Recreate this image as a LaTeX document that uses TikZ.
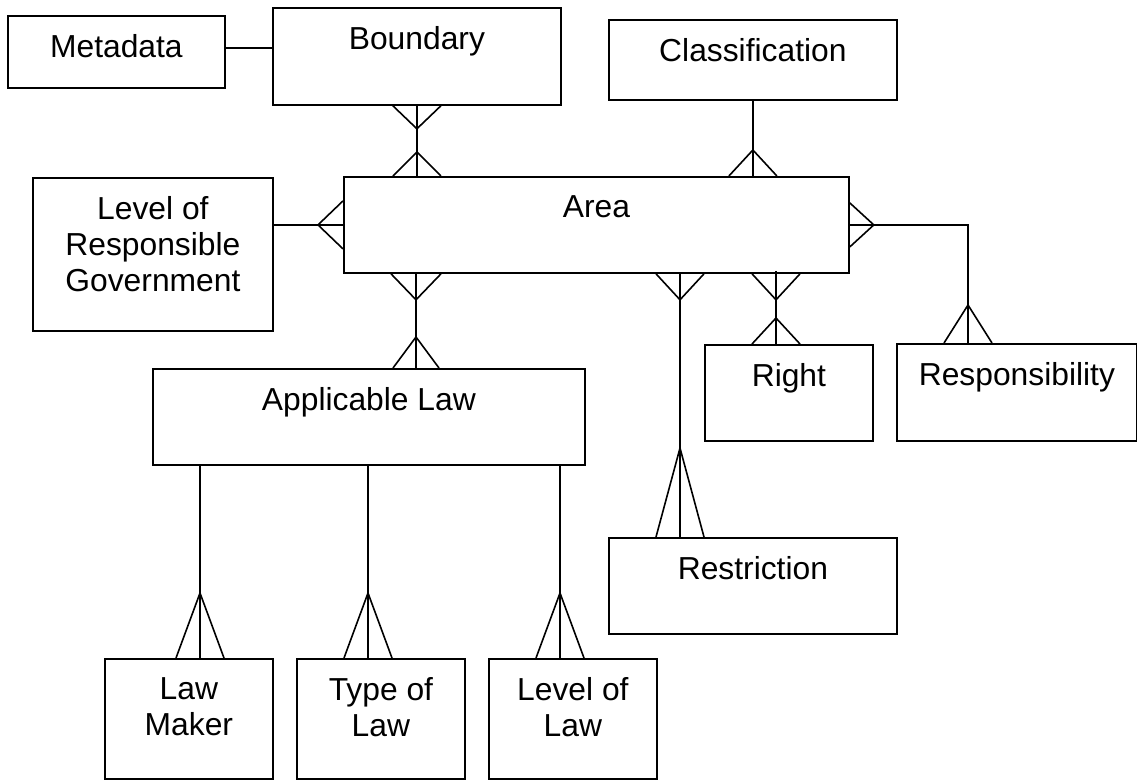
\documentclass[tikz,border=0pt]{standalone}
\usepackage{fontspec}
\setmainfont{Liberation Sans}
\usetikzlibrary{calc}
\newcommand\crowft[3]{\draw[crowst] ($#1+(#3)$) -- ($#1+(#2)$) -- ($#1-(#3)$);}
\begin{document}
\begin{tikzpicture}[x=1pt,y=-1pt,
  ent/.style={draw, line width=1.8pt, inner sep=0pt, anchor=north west},
  lbl/.style={font=\fontsize{31.8}{36}\selectfont, align=center, inner sep=0pt, anchor=north},
  con/.style={line width=1.7pt},
  crowst/.style={line width=1.6pt}]
\useasboundingbox (0,0) rectangle (1137,779);
\fill[white] (0,0) rectangle (1137,779);

% entity boxes
\node[ent, minimum width=217pt, minimum height=72pt] (meta) at (7,15) {};
\node[ent, minimum width=288pt, minimum height=97pt] (bound) at (272,7) {};
\node[ent, minimum width=288pt, minimum height=80pt] (class) at (608,19) {};
\node[ent, minimum width=240pt, minimum height=153pt] (lrg) at (32,177) {};
\node[ent, minimum width=505pt, minimum height=96pt] (area) at (343,176) {};
\node[ent, minimum width=432pt, minimum height=96pt] (applaw) at (152,368) {};
\node[ent, minimum width=168pt, minimum height=96pt] (right) at (704,344) {};
\node[ent, minimum width=240pt, minimum height=97pt] (resp) at (896,343) {};
\node[ent, minimum width=288pt, minimum height=96pt] (restr) at (608,537) {};
\node[ent, minimum width=168pt, minimum height=120pt] (maker) at (104,658) {};
\node[ent, minimum width=168pt, minimum height=120pt] (typelaw) at (296,658) {};
\node[ent, minimum width=168pt, minimum height=120pt] (levellaw) at (488,658) {};

% labels
\node[lbl] (metaL) at ([yshift=-19pt]meta.north) {Metadata};
\node[lbl] (boundL) at ([yshift=-19pt]bound.north) {Boundary};
\node[lbl] (classL) at ([yshift=-19pt]class.north) {Classification};
\node[lbl] (lrgL) at ([yshift=-19pt]lrg.north) {Level of\\Responsible\\Government};
\node[lbl] (areaL) at ([yshift=-19pt]area.north) {Area};
\node[lbl] (applawL) at ([yshift=-19pt]applaw.north) {Applicable Law};
\node[lbl] (rightL) at ([yshift=-19pt]right.north) {Right};
\node[lbl] (respL) at ([yshift=-19pt]resp.north) {Responsibility};
\node[lbl] (restrL) at ([yshift=-19pt]restr.north) {Restriction};
\node[lbl] (makerL) at ([yshift=-19pt]maker.north) {Law\\Maker};
\node[lbl] (typelawL) at ([yshift=-19pt]typelaw.north) {Type of\\Law};
\node[lbl] (levellawL) at ([yshift=-19pt]levellaw.north) {Level of\\Law};

% connector points
\coordinate (m1) at ([yshift=4pt]meta.east);
\coordinate (k1) at (bound.south |- area.north);
\coordinate (k2) at (class.south |- area.north);
\coordinate (k3) at (area.west -| lrg.east);
\coordinate (xr) at ([xshift=72pt]resp.north west);
\coordinate (rj) at (xr |- area.east);
\coordinate (a1) at ([xshift=73pt]area.south west);
\coordinate (a1b) at (a1 |- applaw.north);
\coordinate (a2) at ([xshift=72pt]restr.north west);
\coordinate (a2t) at (a2 |- area.south);
\coordinate (a3) at ([xshift=72pt]right.north west);
\coordinate (a3t) at (a3 |- area.south);
\coordinate (b1) at ([xshift=96pt]maker.north west);
\coordinate (b1t) at (b1 |- applaw.south);
\coordinate (b2) at ([xshift=72pt]typelaw.north west);
\coordinate (b2t) at (b2 |- applaw.south);
\coordinate (b3) at ([xshift=72pt]levellaw.north west);
\coordinate (b3t) at (b3 |- applaw.south);

% connectors
\draw[con] (m1) -- (m1 -| bound.west);
\draw[con] (bound.south) -- (k1);
\draw[con] (class.south) -- (k2);
\draw[con] (area.west) -- (k3);
\draw[con] (area.east) -- (rj) -- (xr);
\draw[con] (a1) -- (a1b);
\draw[con] (a2t) -- (a2);
\draw[con] ([yshift=3pt]a3t) -- (a3);
\draw[con] (b1t) -- (b1);
\draw[con] (b2t) -- (b2);
\draw[con] (b3t) -- (b3);

% crow's feet
\crowft{(bound.south)}{0,23}{24,0}
\crowft{(k1)}{0,-24}{24,0}
\crowft{(k2)}{0,-26}{24,0}
\crowft{(area.west)}{-25,0}{0,24}
\crowft{(area.east)}{24,0}{0,22}
\crowft{(a1)}{0,26}{25,0}
\crowft{(a1b)}{0,-31}{23,0}
\crowft{(a2t)}{0,26}{24,0}
\crowft{(a2)}{0,-89}{24,0}
\crowft{(a3t)}{0,26}{24,0}
\crowft{(a3)}{0,-26}{24,0}
\crowft{(xr)}{0,-38}{24,0}
\crowft{(b1)}{0,-65}{24,0}
\crowft{(b2)}{0,-65}{24,0}
\crowft{(b3)}{0,-65}{24,0}
\end{tikzpicture}
\end{document}
